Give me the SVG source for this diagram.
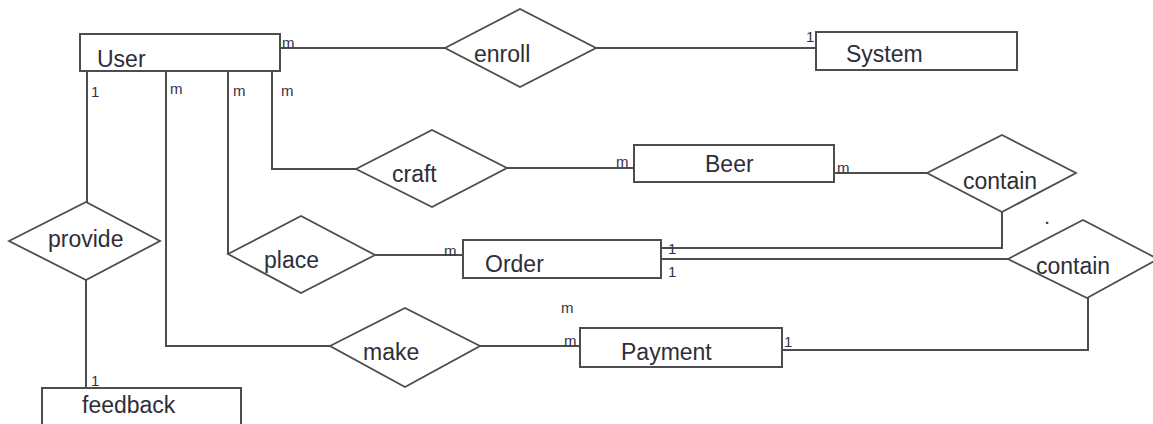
<svg xmlns="http://www.w3.org/2000/svg" width="1153" height="424" viewBox="0 0 1153 424">
  <style>
    .ent { fill: #ffffff; stroke: #4d4d4d; stroke-width: 2; }
    .rel { fill: #ffffff; stroke: #4d4d4d; stroke-width: 1.8; stroke-linejoin: miter; }
    .wire { fill: none; stroke: #4d4d4d; stroke-width: 2; }
    .name { font-family: "Liberation Sans", Arial, sans-serif; font-size: 23px; fill: #2e2e38; }
    .card { font-family: "Liberation Sans", Arial, sans-serif; font-size: 15px; fill: #3a3046; }
  </style>
  <rect width="1153" height="424" fill="#ffffff"/>

  <!-- relationship lines -->
  <g id="connectors">
    <path class="wire" d="M280,48 H445"/>
    <path class="wire" d="M596,48 H816"/>
    <path class="wire" d="M87,71 V202"/>
    <path class="wire" d="M86,280 V388"/>
    <path class="wire" d="M166,71 V346 H330"/>
    <path class="wire" d="M480,346 H580"/>
    <path class="wire" d="M228,71 V254"/>
    <path class="wire" d="M375,255 H463"/>
    <path class="wire" d="M272,71 V169 H356"/>
    <path class="wire" d="M507,168 H634"/>
    <path class="wire" d="M834,173 H927"/>
    <path class="wire" d="M661,248 H1002 V212"/>
    <path class="wire" d="M661,259 H1008"/>
    <path class="wire" d="M782,350 H1088 V298"/>
  </g>

  <!-- entities -->
  <g id="user">
    <rect class="ent" x="80" y="34" width="200" height="37"/>
    <text class="name" x="97" y="67">User</text>
  </g>
  <g id="system">
    <rect class="ent" x="816" y="32" width="201" height="38"/>
    <text class="name" x="846" y="62">System</text>
  </g>
  <g id="beer">
    <rect class="ent" x="634" y="145" width="200" height="37"/>
    <text class="name" x="705" y="172">Beer</text>
  </g>
  <g id="order">
    <rect class="ent" x="463" y="240" width="198" height="38"/>
    <text class="name" x="485" y="272">Order</text>
  </g>
  <g id="payment">
    <rect class="ent" x="580" y="328" width="202" height="39"/>
    <text class="name" x="621" y="360">Payment</text>
  </g>
  <g id="feedback">
    <rect class="ent" x="42" y="388" width="199" height="42"/>
    <text class="name" x="82" y="413">feedback</text>
  </g>

  <!-- relationships -->
  <g id="enroll">
    <polygon class="rel" points="445,48 520,9 596,48 520,87"/>
    <text class="name" x="474" y="62">enroll</text>
  </g>
  <g id="craft">
    <polygon class="rel" points="356,169 432,130 507,168 432,207"/>
    <text class="name" x="392" y="182">craft</text>
  </g>
  <g id="place">
    <polygon class="rel" points="228,254 301,216 375,255 301,293"/>
    <text class="name" x="264" y="268">place</text>
  </g>
  <g id="provide">
    <polygon class="rel" points="9,241 86,202 160,241 86,280"/>
    <text class="name" x="48" y="247">provide</text>
  </g>
  <g id="make">
    <polygon class="rel" points="330,346 405,308 480,346 405,387"/>
    <text class="name" x="363" y="360">make</text>
  </g>
  <g id="contain-beer">
    <polygon class="rel" points="927,173 1002,135 1076,173 1002,212"/>
    <text class="name" x="963" y="189">contain</text>
  </g>
  <g id="contain-payment">
    <polygon class="rel" points="1008,259 1083,220 1158,259 1087,298"/>
    <text class="name" x="1036" y="274">contain</text>
  </g>

  <!-- cardinalities -->
  <g id="cardinalities">
    <text class="card" x="282" y="48">m</text>
    <text class="card" x="806" y="42">1</text>
    <text class="card" x="91" y="97">1</text>
    <text class="card" x="170" y="94">m</text>
    <text class="card" x="233" y="96">m</text>
    <text class="card" x="281" y="96">m</text>
    <text class="card" x="616" y="167">m</text>
    <text class="card" x="837" y="173">m</text>
    <text class="card" x="444" y="256">m</text>
    <text class="card" x="668" y="254">1</text>
    <text class="card" x="668" y="277">1</text>
    <text class="card" x="561" y="313">m</text>
    <text class="card" x="564" y="346">m</text>
    <text class="card" x="784" y="347">1</text>
    <text class="card" x="91" y="386">1</text>
    <text class="card" x="1045" y="224" font-weight="bold">.</text>
  </g>
</svg>
